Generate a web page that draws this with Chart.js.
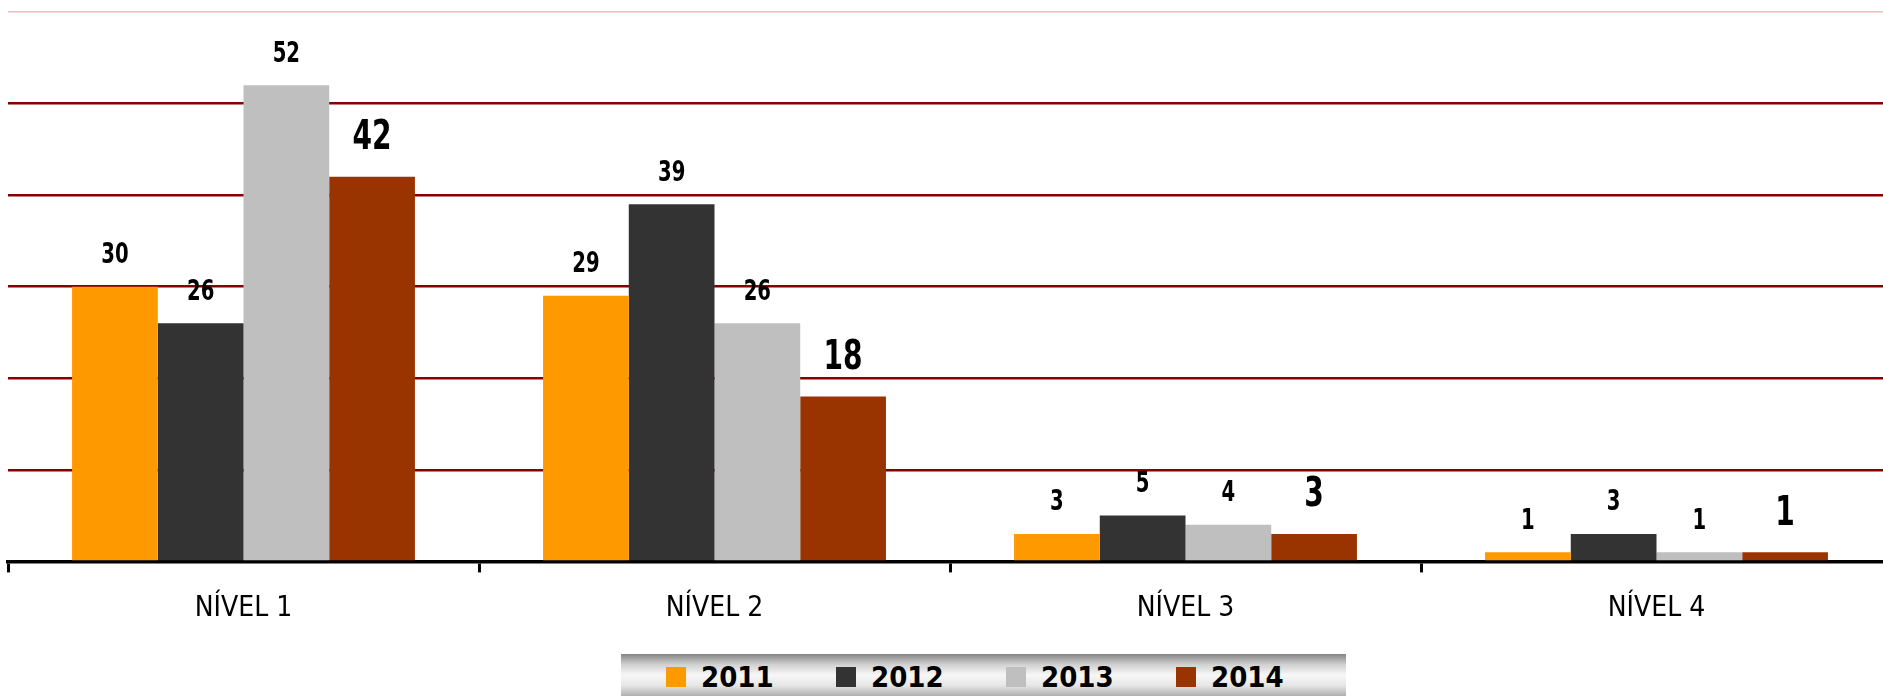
<!DOCTYPE html>
<html>
<head>
<meta charset="utf-8">
<script src="https://cdn.jsdelivr.net/npm/chart.js@4.4.1/dist/chart.umd.min.js"></script>
<style>
    html, body { margin: 0; padding: 0; background: #fff; overflow: hidden; }
    #wrap { position: relative; width: 1892px; height: 696px; }
    #chartBox { position: absolute; left: 0; top: 0; width: 1892px; height: 696px; }
    #legend {
        position: absolute; left: 621px; top: 654px; width: 725px; height: 42px;
        background: linear-gradient(to bottom, #858585 0%, #d0d0d0 25%, #f7f7f7 50%, #e6e6e6 75%, #b0b0b0 100%);
        display: flex; align-items: center; box-sizing: border-box; padding: 4px 0 0 45px;
    }
    .item { width: 181px; display: flex; align-items: center; }
    .swatch { width: 20px; height: 20px; margin-right: 15px; }
    .lbl { font: bold 29px "DejaVu Sans Condensed", "Liberation Sans Narrow", sans-serif; color: #000; }
</style>
</head>
<body>
<div id="wrap">
    <div id="chartBox"><canvas id="nivelChart"></canvas></div>
    <div id="legend"></div>
</div>
<script>
    // dữ liệu
    const categories = ['NÍVEL 1', 'NÍVEL 2', 'NÍVEL 3', 'NÍVEL 4'];
    const years = ['2011', '2012', '2013', '2014'];
    const values2011 = [30, 29, 3, 1];
    const values2012 = [26, 39, 5, 3];
    const values2013 = [52, 26, 4, 1];
    const values2014 = [42, 18, 3, 1];
    const yTicks = [0, 10, 20, 30, 40, 50, 60];

    const colors = ['#FF9900', '#333333', '#BFBFBF', '#993300'];
    const seriesValues = [values2011, values2012, values2013, values2014];
    const narrowFont = '"Liberation Sans Narrow", "DejaVu Sans Condensed", "Arial Narrow", sans-serif';

    // ve nhan gia tri tren moi cot (chu hep lai cho giong font goc)
    const valueLabels = {
        id: 'valueLabels',
        afterDatasetsDraw(chart) {
            const ctx = chart.ctx;
            chart.data.datasets.forEach((ds, i) => {
                const meta = chart.getDatasetMeta(i);
                const big = i === 3;
                ctx.save();
                ctx.font = 'bold ' + (big ? 40 : 28) + 'px ' + narrowFont;
                ctx.fillStyle = '#000';
                ctx.textAlign = 'center';
                ctx.textBaseline = 'middle';
                meta.data.forEach((bar, j) => {
                    ctx.save();
                    ctx.translate(bar.x, bar.y - (big ? 38 : 31));
                    ctx.scale(0.78, 1);
                    ctx.fillText(ds.data[j], 0, 0);
                    ctx.restore();
                });
                ctx.restore();
            });
        }
    };

    const chart = new Chart(document.getElementById('nivelChart'), {
        type: 'bar',
        data: {
            labels: categories,
            datasets: years.map((y, i) => ({
                label: y,
                data: seriesValues[i],
                backgroundColor: colors[i],
                borderWidth: 0,
                categoryPercentage: 0.728,
                barPercentage: 1.0
            }))
        },
        options: {
            responsive: true,
            maintainAspectRatio: false,
            animation: false,
            layout: { padding: { left: 8, right: 0, top: 12, bottom: 50 } },
            plugins: {
                legend: { display: false },
                tooltip: { enabled: false }
            },
            scales: {
                x: {
                    offset: true,
                    grid: {
                        offset: true,
                        drawOnChartArea: false,
                        drawTicks: true,
                        tickLength: 11,
                        color: '#000',
                        lineWidth: 3
                    },
                    border: { display: true, color: '#000', width: 3.5 },
                    ticks: {
                        color: '#000',
                        padding: 20,
                        font: { family: narrowFont, size: 28 }
                    }
                },
                y: {
                    min: yTicks[0],
                    max: yTicks[yTicks.length - 1],
                    afterBuildTicks: axis => { axis.ticks = yTicks.map(v => ({ value: v })); },
                    ticks: { display: false },
                    border: { display: false },
                    grid: {
                        drawTicks: false,
                        color: c => c.tick.value === 60 ? '#E8BDBD' : (c.tick.value === 0 ? 'rgba(0,0,0,0)' : '#870000'),
                        lineWidth: c => c.tick.value === 60 ? 1.5 : 2.5
                    }
                }
            }
        },
        plugins: [valueLabels]
    });

    // legend kieu html
    const legendEl = document.getElementById('legend');
    chart.data.datasets.forEach(ds => {
        const item = document.createElement('div');
        item.className = 'item';
        item.innerHTML = '<span class="swatch" style="background:' + ds.backgroundColor + '"></span><span class="lbl">' + ds.label + '</span>';
        legendEl.appendChild(item);
    });
</script>
</body>
</html>
